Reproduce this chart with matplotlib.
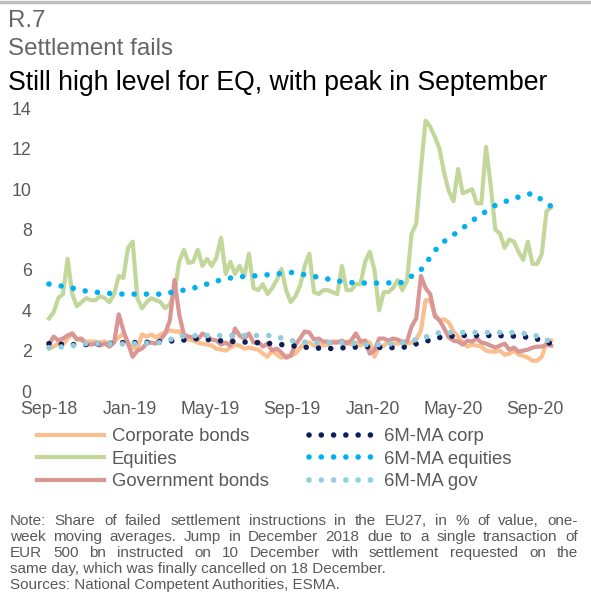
import numpy as np
import matplotlib
matplotlib.use("Agg")
import matplotlib.pyplot as plt
import matplotlib.dates as mdates
from matplotlib.lines import Line2D

plt.rcParams['font.family'] = ['Liberation Sans', 'DejaVu Sans']

# ---------------- data ----------------
start = np.datetime64('2018-09-01')
weeks = start + np.arange(109) * np.timedelta64(7, 'D')
ma_dates = weeks[::4]

corporate = [2.1, 2.2, 2.35, 2.3, 2.6, 2.85, 2.6, 2.5, 2.45, 2.45,
             2.45, 2.4, 2.45, 2.3, 2.45, 2.65, 2.85, 2.4, 2.15, 2.1,
             2.8, 2.7, 2.8, 2.65, 2.8, 2.9, 3.0, 2.95, 2.95, 2.65,
             2.55, 2.5, 2.4, 2.35, 2.3, 2.25, 2.1, 2.05, 2.0, 2.15,
             2.3, 2.25, 2.1, 2.15, 2.1, 2.05, 1.85, 1.7, 2.0, 1.8,
             1.65, 1.75, 1.75, 1.85, 2.15, 2.4, 2.4, 2.25, 2.3, 2.25,
             2.3, 2.45, 2.45, 2.4, 2.45, 2.3, 2.4, 2.25, 2.45, 2.4,
             1.7, 2.2, 2.25, 2.45, 2.35, 2.35, 2.4, 2.35, 2.4, 2.55,
             3.0, 4.5, 4.5, 3.8, 3.5, 3.55, 3.4, 2.95, 2.7, 2.4,
             2.2, 2.3, 2.25, 2.2, 2.0, 1.95, 1.95, 2.0, 1.8, 1.85,
             2.0, 1.8, 1.75, 1.65, 1.5, 1.5, 1.7, 2.4, 2.5]

equities = [3.6, 3.9, 4.6, 4.8, 6.55, 4.8, 4.2, 4.4, 4.6, 4.5,
            4.5, 4.7, 4.6, 4.4, 4.8, 5.7, 5.6, 7.1, 7.4, 4.6,
            4.1, 4.4, 4.6, 4.5, 4.4, 4.1, 4.3, 4.9, 6.4, 7.0,
            6.35, 6.4, 7.0, 6.2, 6.55, 6.2, 6.6, 7.6, 5.8, 6.4,
            5.8, 6.2, 5.7, 6.8, 5.1, 5.0, 5.3, 4.8, 5.1, 5.5,
            6.05, 5.0, 4.4, 4.7, 5.2, 6.2, 6.8, 4.9, 4.8, 5.0,
            5.0, 4.9, 4.8, 6.2, 5.0, 5.0, 5.3, 5.3, 6.4, 6.9,
            6.0, 4.0, 4.9, 4.9, 5.1, 5.5, 5.0, 5.45, 7.8, 8.3,
            11.0, 13.4, 13.1, 12.6, 12.0, 10.8, 9.9, 9.4, 11.0, 9.8,
            9.9, 10.0, 9.3, 9.3, 12.1, 10.2, 8.0, 7.8, 7.1, 7.5,
            7.4, 6.9, 6.5, 7.4, 6.3, 6.3, 6.8, 8.9, 9.1]

government = [2.3, 2.7, 2.5, 2.6, 2.75, 2.85, 2.55, 2.6, 2.3, 2.3,
              2.35, 2.25, 2.35, 2.2, 2.4, 3.8, 3.0, 2.35, 1.7, 2.0,
              2.1, 2.35, 2.4, 2.35, 2.55, 2.85, 3.5, 5.5, 3.8, 2.8,
              2.7, 2.65, 2.55, 2.85, 2.7, 2.55, 2.5, 2.3, 2.4, 2.25,
              3.1, 2.75, 2.6, 2.85, 2.4, 2.45, 2.2, 2.35, 2.0, 2.1,
              1.9, 1.65, 1.75, 2.3, 2.6, 2.95, 2.9, 2.55, 2.6, 2.45,
              2.45, 2.4, 2.4, 2.5, 2.35, 2.5, 2.85, 2.45, 2.5, 1.85,
              2.0, 2.6, 2.6, 2.5, 2.6, 2.55, 2.45, 2.45, 3.2, 3.6,
              5.7, 5.1, 4.8, 3.7, 3.5, 3.1, 2.65, 2.5, 2.45, 2.3,
              2.5, 2.45, 2.6, 2.4, 2.35, 2.25, 2.15, 2.25, 2.35, 2.05,
              2.15, 1.95, 2.0, 2.05, 2.15, 2.2, 2.2, 2.3, 2.25]

ma_corp = [2.35, 2.3, 2.3, 2.35, 2.4, 2.4, 2.45, 2.5, 2.6, 2.5,
           2.45, 2.4, 2.35, 2.25, 2.15, 2.1, 2.15, 2.2, 2.15, 2.15,
           2.4, 2.65, 2.75, 2.75, 2.75, 2.72, 2.65, 2.35]
ma_equities = [5.3, 5.15, 4.95, 4.85, 4.8, 4.8, 4.8, 4.95, 5.15, 5.45,
               5.65, 5.7, 5.78, 5.88, 5.72, 5.55, 5.38, 5.35, 5.35, 5.38,
               6.0, 7.25, 7.9, 8.6, 9.2, 9.55, 9.8, 9.15]
ma_gov = [2.15, 2.2, 2.35, 2.35, 2.33, 2.35, 2.4, 2.7, 2.75, 2.75,
          2.75, 2.75, 2.75, 2.5, 2.4, 2.4, 2.4, 2.3, 2.3, 2.4,
          2.6, 2.9, 2.9, 2.9, 2.9, 2.9, 2.8, 2.45]

yticks = [0, 2, 4, 6, 8, 10, 12, 14]
xtick_dates = ['2018-09-01', '2019-01-01', '2019-05-01', '2019-09-01',
               '2020-01-01', '2020-05-01', '2020-09-01']

series_labels = ['Corporate bonds', 'Equities', 'Government bonds',
                 '6M-MA corp', '6M-MA equities', '6M-MA gov']

note_lines = [
    "Note: Share of failed settlement instructions in the EU27, in % of value, one-",
    "week moving averages. Jump in December 2018 due to a single transaction of",
    "EUR 500 bn instructed on 10 December with settlement requested on the",
    "same day, which was finally cancelled on 18 December.",
    "Sources: National Competent Authorities, ESMA.",
]

# ---------------- styles ----------------
C_CORP = '#F9BF8F'
C_EQ = '#C4D79B'
C_GOV = '#D99694'
C_MACORP = '#0C1F5C'
C_MAEQ = '#00B0F0'
C_MAGOV = '#92CDDC'
GREY = '#595959'

W, H = 591, 594
fig = plt.figure(figsize=(W / 100, H / 100), dpi=100)

def px(x, y):
    return x / W, 1 - y / H

# axes placement (pixels)
ax_left, ax_right, ax_top, ax_bottom = 40, 560, 108.5, 391
ax = fig.add_axes([ax_left / W, 1 - ax_bottom / H,
                   (ax_right - ax_left) / W, (ax_bottom - ax_top) / H])

d0 = mdates.date2num(np.datetime64('2018-09-01'))
ppd = (534.5 - 49) / 731.0
ax.set_xlim(d0 - (49 - ax_left) / ppd, d0 + (ax_right - 49) / ppd)
ax.set_ylim(0, 14)

lw = 3.0
ax.plot(weeks, corporate, color=C_CORP, lw=lw, solid_joinstyle='round', label=series_labels[0])
ax.plot(weeks, equities, color=C_EQ, lw=lw, solid_joinstyle='round', label=series_labels[1])
ax.plot(weeks, government, color=C_GOV, lw=lw, solid_joinstyle='round', label=series_labels[2])

dot_lw = 4.0
dot_ls = (0, (0.01, 2.2))
for vals, c, lab in [(ma_corp, C_MACORP, series_labels[3]),
                     (ma_equities, C_MAEQ, series_labels[4]),
                     (ma_gov, C_MAGOV, series_labels[5])]:
    ax.plot(ma_dates, vals, color=c, lw=dot_lw, linestyle=dot_ls,
            dash_capstyle='round', label=lab)

for s in ax.spines.values():
    s.set_visible(False)
ax.set_yticks(yticks)
ax.set_xticks([mdates.date2num(np.datetime64(d)) for d in xtick_dates])
ax.xaxis.set_major_formatter(mdates.DateFormatter('%b-%y'))
ax.tick_params(axis='both', length=0, labelsize=12.8, colors=GREY)
ax.tick_params(axis='y', pad=6)
ax.tick_params(axis='x', pad=7)

# legend
handles, labels = ax.get_legend_handles_labels()
leg = fig.legend(handles, labels, ncol=2, loc='upper left',
                 bbox_to_anchor=px(37, 428), frameon=False,
                 fontsize=13.3, labelcolor=GREY, handlelength=3.6,
                 handletextpad=0.45, columnspacing=2.2, labelspacing=0.30,
                 borderpad=0, borderaxespad=0)

# header
fig.add_artist(Line2D([0, 1], [1 - 1.5 / H, 1 - 1.5 / H], color='#BFBFBF', lw=2.5,
                      transform=fig.transFigure))
fig.text(*px(8, 27), 'R.7', fontsize=17.4, color='#666666', va='baseline')
fig.text(*px(8, 55), 'Settlement fails', fontsize=17.4, color='#666666', va='baseline')
fig.text(*px(8, 90), 'Still high level for EQ, with peak in September', fontsize=19.2,
         color='black', va='baseline')

# note (justified)
renderer = fig.canvas.get_renderer()
note_fs = 11.0
x0n, x1n = 10, 578
line_y = [525, 541, 557, 573, 589]
for k, line in enumerate(note_lines):
    yb = line_y[k]
    justify = k < 3
    if not justify:
        fig.text(*px(x0n, yb), line, fontsize=note_fs, color=GREY, va='baseline')
        continue
    words = line.split(' ')
    texts = [fig.text(0, 0, w_, fontsize=note_fs, color=GREY, va='baseline') for w_ in words]
    widths = [t.get_window_extent(renderer).width for t in texts]
    gap = ((x1n - x0n) - sum(widths)) / (len(words) - 1)
    xcur = x0n
    for t, wd in zip(texts, widths):
        t.set_position(px(xcur, yb))
        xcur += wd + gap

fig.savefig('out.png', dpi=100)
